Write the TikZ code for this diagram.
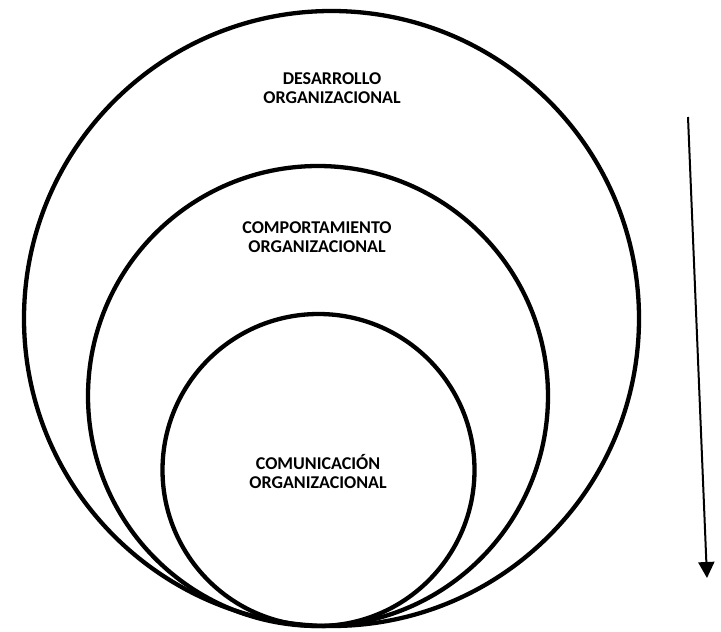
\documentclass[tikz,border=0pt]{standalone}
\usepackage{fontspec}
\setmainfont{Carlito}
\usetikzlibrary{arrows.meta}
\tikzset{
  ring/.style={draw=black, line width=4.3pt},
  ringlabel/.style={align=center, font=\bfseries\fontsize{18}{19}\selectfont, inner sep=0pt},
  flow/.style={draw=black, line width=2pt, -{Triangle[width=16pt,length=16pt]}}
}
\begin{document}
\begin{tikzpicture}[x=1pt,y=-1pt]
  \useasboundingbox (0,0) rectangle (721,632);
  % nested levels, all resting on the same bottom point
  \draw[ring] (331.5,318.5) circle[radius=307.5];
  \draw[ring] (318,396) circle[radius=230];
  \draw[ring] (318.5,470) circle[radius=156];
  % level names
  \node[ringlabel] (desarrollo) at (332,88) {DESARROLLO\\ORGANIZACIONAL};
  \node[ringlabel] (comportamiento) at (317,237) {COMPORTAMIENTO\\ORGANIZACIONAL};
  \node[ringlabel] (comunicacion) at (318,471) {COMUNICACIÓN\\ORGANIZACIONAL};
  % downward direction arrow
  \coordinate (arrowtop) at (688,117);
  \coordinate (arrowtip) at (707,578);
  \draw[flow] (arrowtop) -- (arrowtip);
\end{tikzpicture}
\end{document}
